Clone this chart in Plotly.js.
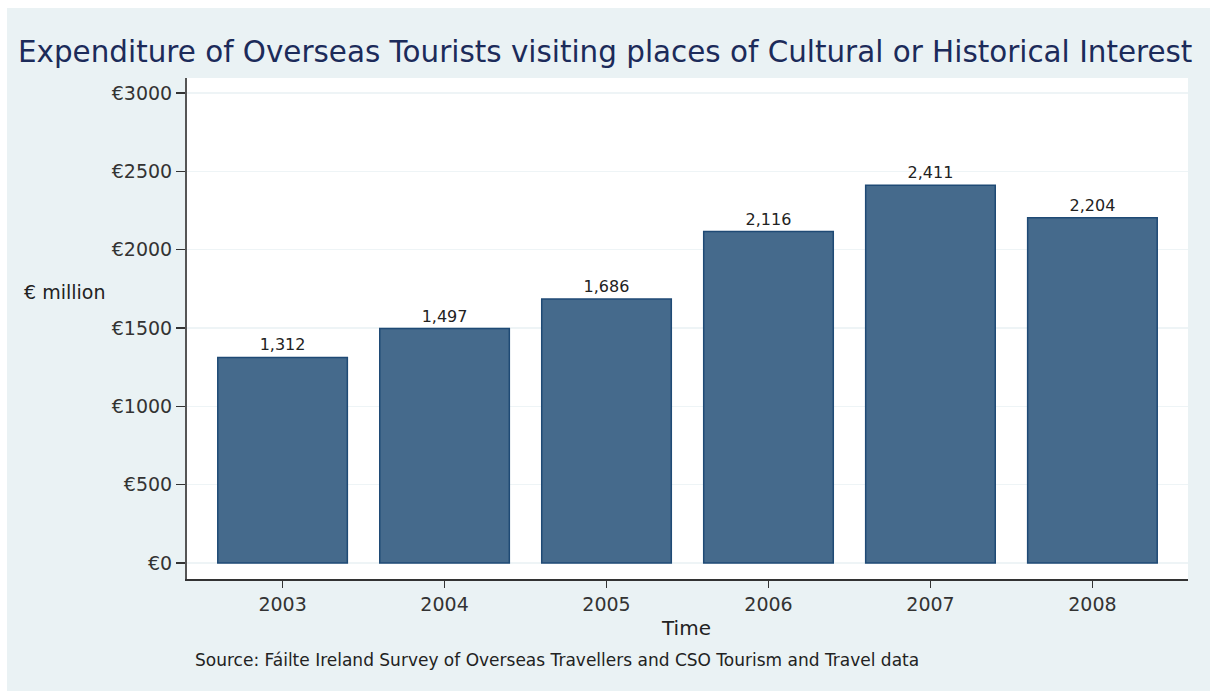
<!DOCTYPE html>
<html>
<head>
<meta charset="utf-8">
<script src="https://cdn.plot.ly/plotly-3.0.1.min.js"></script>
<style>html,body{margin:0;padding:0;background:#fff;}#chart{width:1210px;height:691px;}</style>
</head>
<body>
<div id="chart"></div>
<script>
const years = ['2003', '2004', '2005', '2006', '2007', '2008'];
const expenditure = [1312, 1497, 1686, 2116, 2411, 2204];
const yTickVals = [0, 500, 1000, 1500, 2000, 2500, 3000];
const yTickText = ['€0', '€500', '€1000', '€1500', '€2000', '€2500', '€3000'];

const FONT = 'DejaVu Sans, Verdana, sans-serif';
const L = 187, R = 1188, T = 78, B = 579;
const px = x => (x - L) / (R - L);
const py = y => (B - y) / (B - T);

const trace = {
  type: 'bar',
  x: years.map(Number),
  y: expenditure,
  width: 0.8,
  marker: {color: '#456a8c', line: {color: '#1f4a75', width: 1.5}},
  text: expenditure.map(v => v.toLocaleString('en-US')),
  textposition: 'outside',
  cliponaxis: false,
  textfont: {family: FONT, size: 16, color: '#222'},
  hoverinfo: 'x+y'
};

const layout = {
  width: 1210, height: 691,
  margin: {l: L, r: 1210 - R, t: T, b: 691 - B},
  paper_bgcolor: '#ffffff',
  plot_bgcolor: '#ffffff',
  showlegend: false,
  title: {
    text: 'Expenditure of Overseas Tourists visiting places of Cultural or Historical Interest',
    font: {family: FONT, size: 29.4, color: '#1c2b5a'},
    xref: 'container', yref: 'container',
    x: 18 / 1210, xanchor: 'left',
    y: 1 - 52 / 691, yanchor: 'middle'
  },
  xaxis: {
    range: [2002.41, 2008.59],
    tickvals: years.map(Number),
    ticktext: years,
    ticks: 'outside', ticklen: 7, tickcolor: '#333', tickwidth: 1.5,
    showline: true, linecolor: '#333', linewidth: 2,
    showgrid: false, zeroline: false,
    tickfont: {family: FONT, size: 19, color: '#333'}
  },
  yaxis: {
    range: [-102, 3096],
    tickvals: yTickVals,
    ticktext: yTickText,
    ticks: 'outside', ticklen: 9, tickcolor: '#333', tickwidth: 1.5,
    showline: true, linecolor: '#555', linewidth: 2,
    showgrid: true, gridcolor: '#eef4f6', gridwidth: 1.5,
    zeroline: false,
    tickfont: {family: FONT, size: 19, color: '#333'}
  },
  shapes: [{
    type: 'rect', xref: 'paper', yref: 'paper', layer: 'below',
    x0: px(7), x1: px(1215), y0: py(700), y1: py(8),
    fillcolor: '#eaf2f4', line: {width: 0}
  }, {
    type: 'rect', xref: 'paper', yref: 'paper', layer: 'below',
    x0: 0, x1: 1, y0: 0, y1: 1,
    fillcolor: '#ffffff', line: {width: 0}
  }],
  annotations: [{
    text: '€ million', xref: 'paper', yref: 'paper',
    x: px(22), xanchor: 'left', y: py(292), yanchor: 'middle',
    showarrow: false, font: {family: FONT, size: 19, color: '#222'}
  }, {
    text: 'Time', xref: 'paper', yref: 'paper',
    x: px(686), xanchor: 'center', y: py(628), yanchor: 'middle',
    showarrow: false, font: {family: FONT, size: 20, color: '#222'}
  }, {
    text: 'Source: Fáilte Ireland Survey of Overseas Travellers and CSO Tourism and Travel data',
    xref: 'paper', yref: 'paper',
    x: px(193), xanchor: 'left', y: py(660), yanchor: 'middle',
    showarrow: false, font: {family: FONT, size: 17, color: '#222'}
  }]
};

Plotly.newPlot('chart', [trace], layout, {displayModeBar: false, staticPlot: true});
</script>
</body>
</html>
